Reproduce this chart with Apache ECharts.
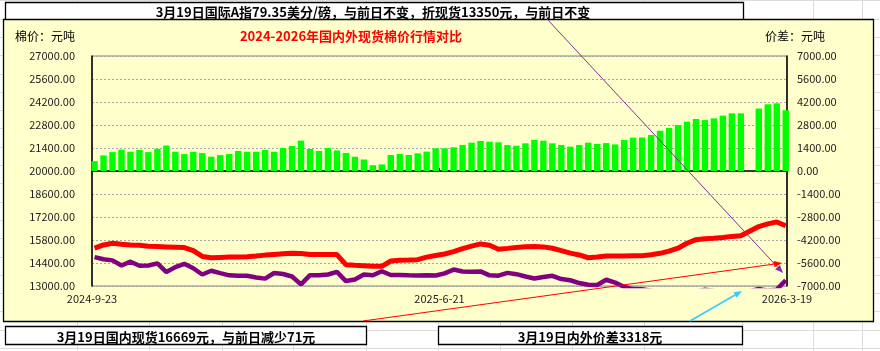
<!DOCTYPE html>
<html>
<head>
<meta charset="utf-8">
<script src="https://cdn.jsdelivr.net/npm/echarts@6.0.0/dist/echarts.min.js"></script>
<style>
html, body { margin: 0; padding: 0; background: #fff; }
#main { width: 880px; height: 351px; }
</style>
</head>
<body>
<div id="main"></div>
<script>
// one point per trading week (mid-week date)
var weeks = [
  '2024-09-25','2024-10-02','2024-10-09','2024-10-16','2024-10-23','2024-10-30','2024-11-06','2024-11-13','2024-11-20','2024-11-27',
  '2024-12-04','2024-12-11','2024-12-18','2024-12-25','2025-01-01','2025-01-08','2025-01-15','2025-01-22','2025-01-29','2025-02-05',
  '2025-02-12','2025-02-19','2025-02-26','2025-03-05','2025-03-12','2025-03-19','2025-03-26','2025-04-02','2025-04-09','2025-04-16',
  '2025-04-23','2025-04-30','2025-05-07','2025-05-14','2025-05-21','2025-05-28','2025-06-04','2025-06-11','2025-06-18','2025-06-25',
  '2025-07-02','2025-07-09','2025-07-16','2025-07-23','2025-07-30','2025-08-06','2025-08-13','2025-08-20','2025-08-27','2025-09-03',
  '2025-09-10','2025-09-17','2025-09-24','2025-10-01','2025-10-08','2025-10-15','2025-10-22','2025-10-29','2025-11-05','2025-11-12',
  '2025-11-19','2025-11-26','2025-12-03','2025-12-10','2025-12-17','2025-12-24','2025-12-31','2026-01-07','2026-01-14','2026-01-21',
  '2026-01-28','2026-02-04','2026-02-11','2026-02-18','2026-02-25','2026-03-04','2026-03-11','2026-03-18'
];
// 内外价差 (right axis)
var spread = [
  600, 950, 1150, 1300, 1170, 1280, 1150, 1350, 1550, 1170,
  1030, 1170, 1090, 870, 970, 1030, 1220, 1170, 1170, 1280,
  1170, 1400, 1520, 1850, 1340, 1220, 1400, 1250, 1100, 870,
  700, 350, 400, 975, 1035, 975, 1075, 1180, 1380, 1380,
  1440, 1580, 1725, 1830, 1785, 1745, 1580, 1540, 1685, 1890,
  1845, 1685, 1580, 1480, 1580, 1725, 1645, 1700, 1620, 1890,
  2030, 2040, 2190, 2450, 2620, 2800, 3000, 3165, 3100, 3205,
  3370, 3510, 3510, null, 3800, 4060, 4120, 3700
];
// 国内现货 (left axis)
var domestic = [
  15300, 15500, 15600, 15540, 15500, 15480, 15420, 15400, 15380, 15360,
  15340, 15150, 14800, 14720, 14740, 14760, 14760, 14780, 14820, 14880,
  14920, 14960, 14990, 14980, 14920, 14920, 14920, 14910, 14300, 14260,
  14230, 14200, 14200, 14520, 14570, 14580, 14600, 14760, 14860, 14950,
  15090, 15280, 15430, 15560, 15480, 15240, 15290, 15350, 15390, 15400,
  15380, 15300, 15150, 15000, 14890, 14720, 14760, 14820, 14830, 14830,
  14840, 14840, 14900, 14990, 15120, 15300, 15600, 15820, 15880, 15900,
  15950, 16020, 16060, null, 16620, 16780, 16900, 16669
];
// 国际A指折现货 (left axis)
var intl = [
  14760, 14630, 14560, 14250, 14480, 14230, 14250, 14380, 13850, 14150,
  14350, 14080, 13700, 13930, 13780, 13650, 13620, 13620, 13520, 13450,
  13790, 13730, 13580, 13100, 13660, 13650, 13700, 13860, 13300, 13400,
  13700, 13650, 13900, 13670, 13670, 13650, 13640, 13660, 13640, 13770,
  14000, 13880, 13860, 13890, 13650, 13630, 13800, 13720, 13580, 13460,
  13550, 13620, 13420, 13350, 13180, 13080, 13060, 13380, 13210, 12940,
  12810, 12800, 12710, 12540, 12500, 12500, 12600, 12655, 12780, 12695,
  12580, 12510, 12550, null, 12820, 12720, 12780, 13350
];
var dateTicks = ['2024-9-23', '2025-6-21', '2026-3-19'];

function ts(s) { return echarts.time.parse(s).getTime(); }
function pairs(vals) {
  var out = [];
  for (var i = 0; i < weeks.length; i++) {
    if (vals[i] != null) out.push([ts(weeks[i]), vals[i]]);
  }
  return out;
}
var tickTimes = dateTicks.map(ts);

function arrow(x1, y1, x2, y2, color, w) {
  var a = Math.atan2(y2 - y1, x2 - x1), L = 8, H = 3.2;
  var bx = x2 - L * Math.cos(a), by = y2 - L * Math.sin(a);
  return [
    { type: 'line', z: 100, shape: { x1: x1, y1: y1, x2: bx, y2: by }, style: { stroke: color, lineWidth: w } },
    { type: 'polygon', z: 100, shape: { points: [[x2, y2],
        [bx + H * Math.sin(a), by - H * Math.cos(a)],
        [bx - H * Math.sin(a), by + H * Math.cos(a)]] }, style: { fill: color } }
  ];
}

var font = '"Noto Sans CJK SC", sans-serif';
var g = [];
// spreadsheet cells behind everything
[77, 149, 222, 293, 366, 438, 500, 572, 644, 742, 813, 862].forEach(function (x) {
  g.push({ type: 'line', z: -20, shape: { x1: x + 0.5, y1: 0, x2: x + 0.5, y2: 351 }, style: { stroke: '#dcdcdc', lineWidth: 1 } });
});
for (var k = 0; k < 20; k++) {
  var y = Math.round(348 - 18.3 * k) + 0.5;
  g.push({ type: 'line', z: -20, shape: { x1: 0, y1: y, x2: 880, y2: y }, style: { stroke: '#dcdcdc', lineWidth: 1 } });
}
g.push({ type: 'rect', z: -15, shape: { x: 5.5, y: 2.5, width: 738, height: 30 }, style: { fill: '#fff', stroke: '#000', lineWidth: 1.3 } });
g.push({ type: 'rect', z: -10, shape: { x: 3.5, y: 19.5, width: 870, height: 302 }, style: { fill: '#FFFFCC', stroke: '#000', lineWidth: 1.3 } });
g.push({ type: 'rect', z: -10, shape: { x: 5.5, y: 326.5, width: 361, height: 18 }, style: { fill: '#fff', stroke: '#000', lineWidth: 1.3 } });
g.push({ type: 'rect', z: -10, shape: { x: 438.5, y: 326.5, width: 304, height: 18 }, style: { fill: '#fff', stroke: '#000', lineWidth: 1.3 } });
function txt(x, y, s, opt) {
  return { type: 'text', z: 50, x: x, y: y, style: Object.assign({ text: s, fill: '#000', font: '12px ' + font, textAlign: 'left', textVerticalAlign: 'middle' }, opt || {}) };
}
g.push(txt(373, 12, '3月19日国际A指79.35美分/磅，与前日不变，折现货13350元，与前日不变', { font: 'bold 13px ' + font, textAlign: 'center' }));
g.push(txt(15, 36, '棉价：元吨'));
g.push(txt(765, 36, '价差：元吨'));
g.push(txt(351, 36, '2024-2026年国内外现货棉价行情对比', { font: 'bold 13px ' + font, fill: '#FF0000', textAlign: 'center' }));
g.push(txt(186, 337, '3月19日国内现货16669元，与前日减少71元', { font: 'bold 13px ' + font, textAlign: 'center' }));
g.push(txt(590, 337, '3月19日内外价差3318元', { font: 'bold 13px ' + font, textAlign: 'center' }));
g = g.concat(arrow(547, 19, 783, 273, '#7F2F9F', 1));
g = g.concat(arrow(363, 321, 782, 263, '#FF0000', 1));
g = g.concat(arrow(690, 321, 742, 291, '#33CCFF', 1.5));

var chart = echarts.init(document.getElementById('main'), null, { renderer: 'canvas' });
chart.setOption({
  animation: false,
  backgroundColor: '#fff',
  textStyle: { fontFamily: font },
  grid: { left: 92, right: 93, top: 56, bottom: 65, show: true, borderColor: '#808080', borderWidth: 1, outerBoundsMode: 'none' },
  xAxis: {
    type: 'value',
    min: ts('2024-09-23'),
    max: ts('2026-03-19'),
    axisLine: { lineStyle: { color: '#000', width: 1.5 } },
    axisTick: { customValues: tickTimes, inside: true, length: 3, lineStyle: { color: '#000' } },
    axisLabel: {
      customValues: tickTimes, margin: 7, color: '#222', fontSize: 11,
      formatter: function (v) { var i = tickTimes.indexOf(v); return i >= 0 ? dateTicks[i] : ''; }
    },
    splitLine: { show: false }
  },
  yAxis: [{
    type: 'value', min: 13000, max: 27000, interval: 1400,
    axisLine: { show: true, lineStyle: { color: '#000', width: 1.5 } },
    axisTick: { show: false },
    axisLabel: { margin: 17, color: '#222', fontSize: 11, formatter: function (v) { return v.toFixed(2); } },
    splitLine: { lineStyle: { color: '#a8a8a8', type: [2, 2] } }
  }, {
    type: 'value', min: -7000, max: 7000, interval: 1400,
    axisLine: { show: true, lineStyle: { color: '#000', width: 1.5 } },
    axisTick: { show: false },
    axisLabel: { margin: 10, color: '#222', fontSize: 11, formatter: function (v) { return v.toFixed(2); } },
    splitLine: { show: false }
  }],
  series: [{
    name: '内外价差', type: 'bar', yAxisIndex: 1, barWidth: 6.4,
    itemStyle: { color: '#00FF00' }, data: pairs(spread), z: 1
  }, {
    name: '国际', type: 'line', yAxisIndex: 0, symbol: 'none', connectNulls: true,
    lineStyle: { color: '#800080', width: 4.5 }, data: pairs(intl), z: 3
  }, {
    name: '国内', type: 'line', yAxisIndex: 0, symbol: 'none', connectNulls: true,
    lineStyle: { color: '#FF0000', width: 5 }, data: pairs(domestic), z: 3
  }],
  graphic: { elements: g }
});
</script>
</body>
</html>
